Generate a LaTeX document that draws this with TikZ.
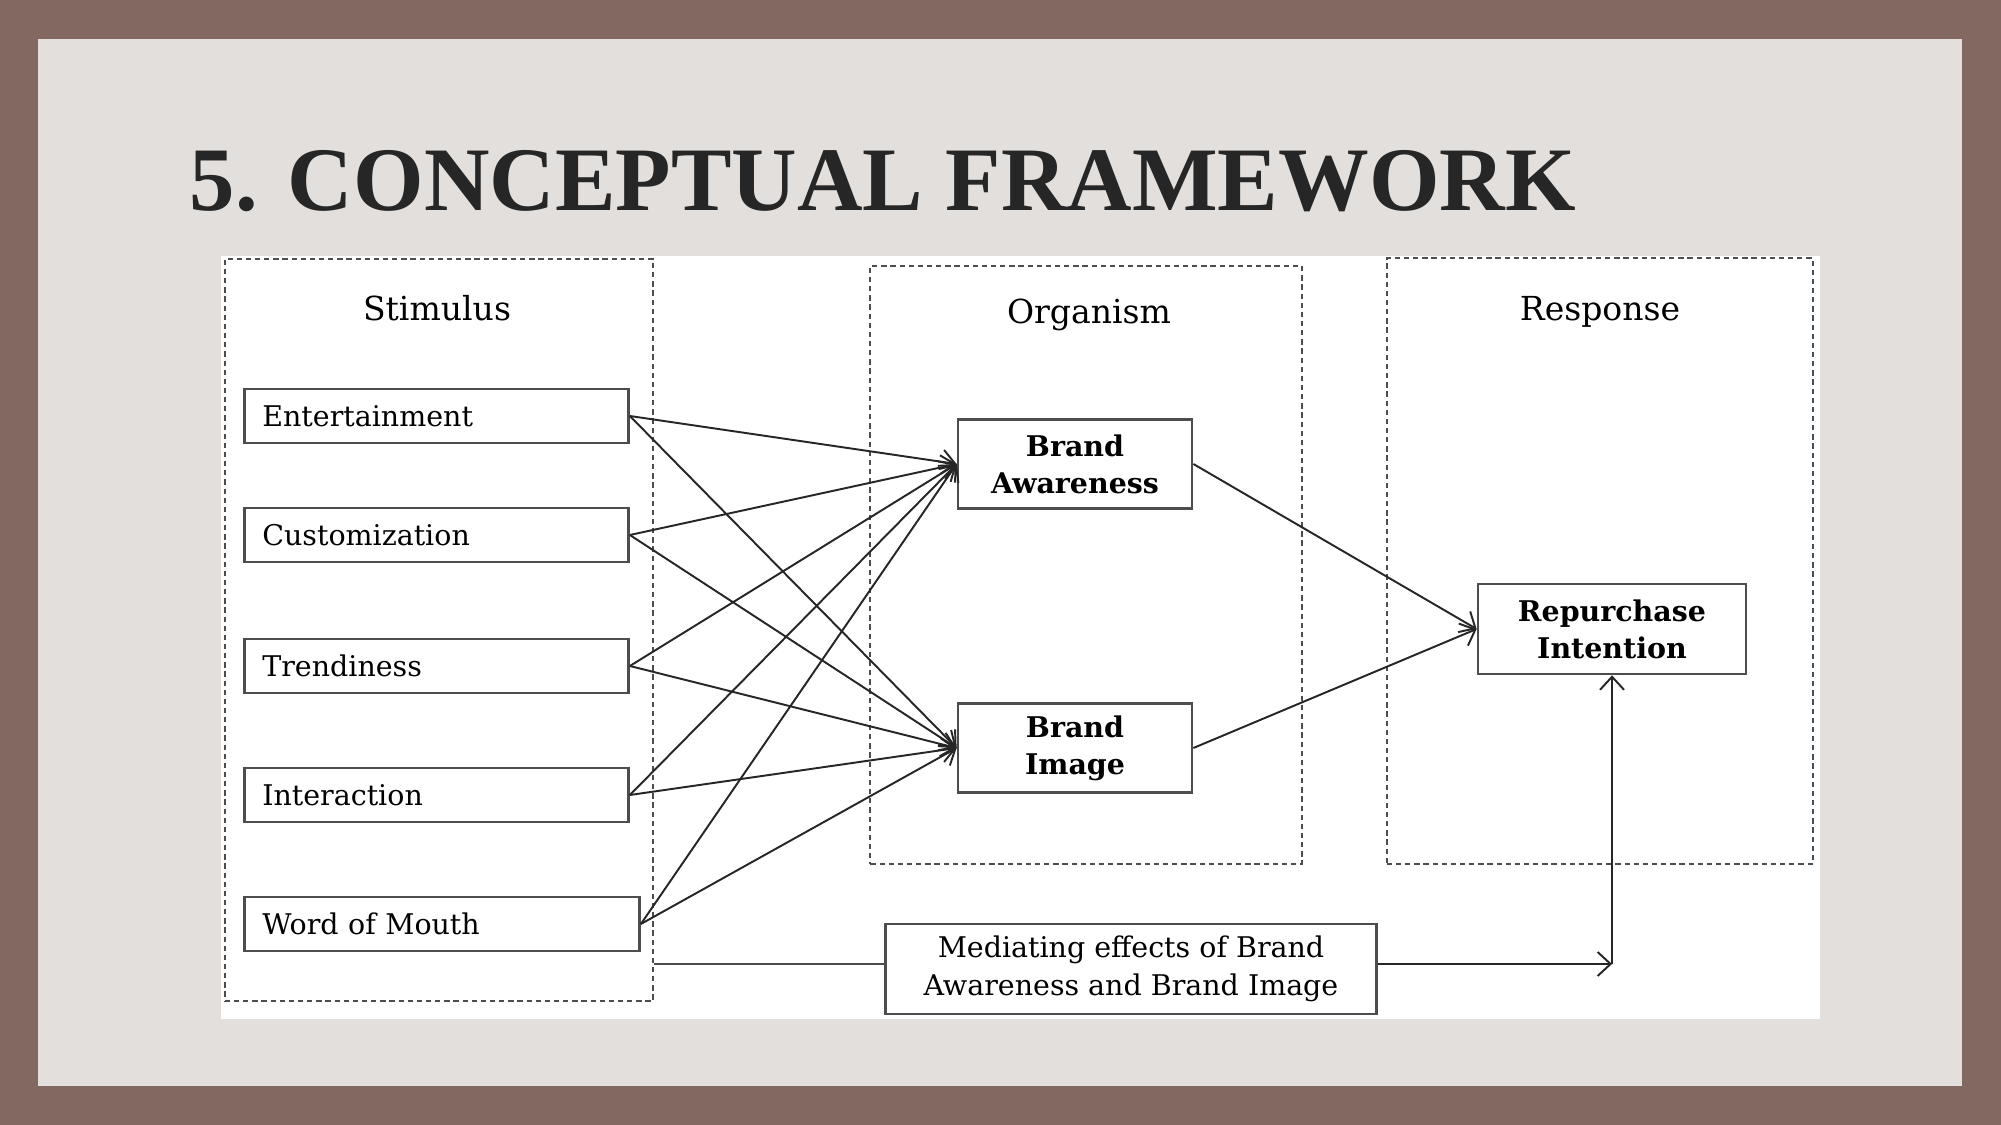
\documentclass[tikz,border=0pt]{standalone}
\usepackage{fontspec}
\setmainfont{DejaVu Serif}
\newfontfamily\titlefont{Liberation Serif}
\usepackage{tikz}
\usetikzlibrary{arrows.meta,positioning}
\definecolor{frame}{HTML}{826860}
\definecolor{panel}{HTML}{E3DFDC}
\definecolor{ink}{HTML}{262626}
\definecolor{edge}{HTML}{4D4D4D}

\begin{document}
\begin{tikzpicture}[x=0.01cm, y=-0.01cm,
    stimbox/.style={draw=edge, line width=0.75pt, minimum height=0.54cm, text width=3.48cm, inner xsep=0.18cm, align=left, font=\fontsize{8.1}{10}\selectfont},
    orgbox/.style={draw=edge, line width=0.75pt, minimum width=2.34cm, minimum height=0.89cm, align=center, font=\fontsize{8.1}{10.5}\selectfont\bfseries},
    groupbox/.style={draw=edge, line width=0.6pt, dash pattern=on 1.5pt off 1.1pt},
    grouptitle/.style={anchor=base, inner sep=0pt, font=\fontsize{9.4}{11}\selectfont},
    conn/.style={draw=black!85, line width=0.55pt, -{Straight Barb[length=1.3mm, width=2.4mm]}}
]
    % Slide background
    \fill[frame] (0,0) rectangle (2001,1125);
    \fill[panel] (38,39) rectangle (1962,1086);
    \node[anchor=base west, inner sep=0pt, text=ink, font=\titlefont\bfseries\fontsize{25.8}{30}\selectfont] (title) at (189,211) {5. CONCEPTUAL FRAMEWORK};
    \fill[white] (221,256) rectangle (1820,1019);

    % Dashed groups
    \node[groupbox, minimum width=4.28cm, minimum height=7.42cm] (stim) at (439,630) {};
    \node[groupbox, minimum width=4.31cm, minimum height=5.98cm] (org) at (1086,565) {};
    \node[groupbox, minimum width=4.26cm, minimum height=6.05cm] (resp) at (1600,561) {};
    \node[grouptitle] (stimtitle) at (437,321) {Stimulus};
    \node[grouptitle] (orgtitle) at (1089,324) {Organism};
    \node[grouptitle] (resptitle) at (1600,321) {Response};

    % Stimulus factors
    \node[stimbox, anchor=west] (ent) at (243,416) {Entertainment};
    \node[stimbox, anchor=west] (cus) at (243,535) {Customization};
    \node[stimbox, anchor=west] (tre) at (243,666) {Trendiness};
    \node[stimbox, anchor=west] (int) at (243,795) {Interaction};
    \node[stimbox, anchor=west, text width=3.59cm] (wom) at (243,924) {Word of Mouth};

    % Organism and response
    \node[orgbox] (ba) at (1075,464) {Brand\\Awareness};
    \node[orgbox] (bi) at (1075,748) {Brand\\Image};
    \node[orgbox, minimum width=2.68cm, minimum height=0.9cm] (rep) at (1612,629) {Repurchase\\Intention};
    \node[orgbox, minimum width=4.91cm, minimum height=0.9cm, font=\fontsize{8.1}{10.7}\selectfont] (med) at (1131,969) {Mediating effects of Brand\\Awareness and Brand Image};
    \coordinate (medin) at ([yshift=0.05cm]med.west);
    \coordinate (medout) at ([yshift=0.05cm]med.east);
    \coordinate (turn) at (rep.south |- medout);

    % Connections — Brand Awareness
    \draw[conn] (ent.east) -- (ba.west);
    \draw[conn] (cus.east) -- (ba.west);
    \draw[conn] (tre.east) -- (ba.west);
    \draw[conn] (int.east) -- (ba.west);
    \draw[conn] (wom.east) -- (ba.west);

    % Connections — Brand Image
    \draw[conn] (ent.east) -- (bi.west);
    \draw[conn] (cus.east) -- (bi.west);
    \draw[conn] (tre.east) -- (bi.west);
    \draw[conn] (int.east) -- (bi.west);
    \draw[conn] (wom.east) -- (bi.west);

    % Connections — Response
    \draw[conn] (ba.east) -- (rep.west);
    \draw[conn] (bi.east) -- (rep.west);
    \draw[draw=edge, line width=0.75pt] (stim.east |- medin) -- (medin);
    \draw[conn] (medout) -- (turn);
    \draw[conn] (turn) -- (rep.south);
\end{tikzpicture}
\end{document}
